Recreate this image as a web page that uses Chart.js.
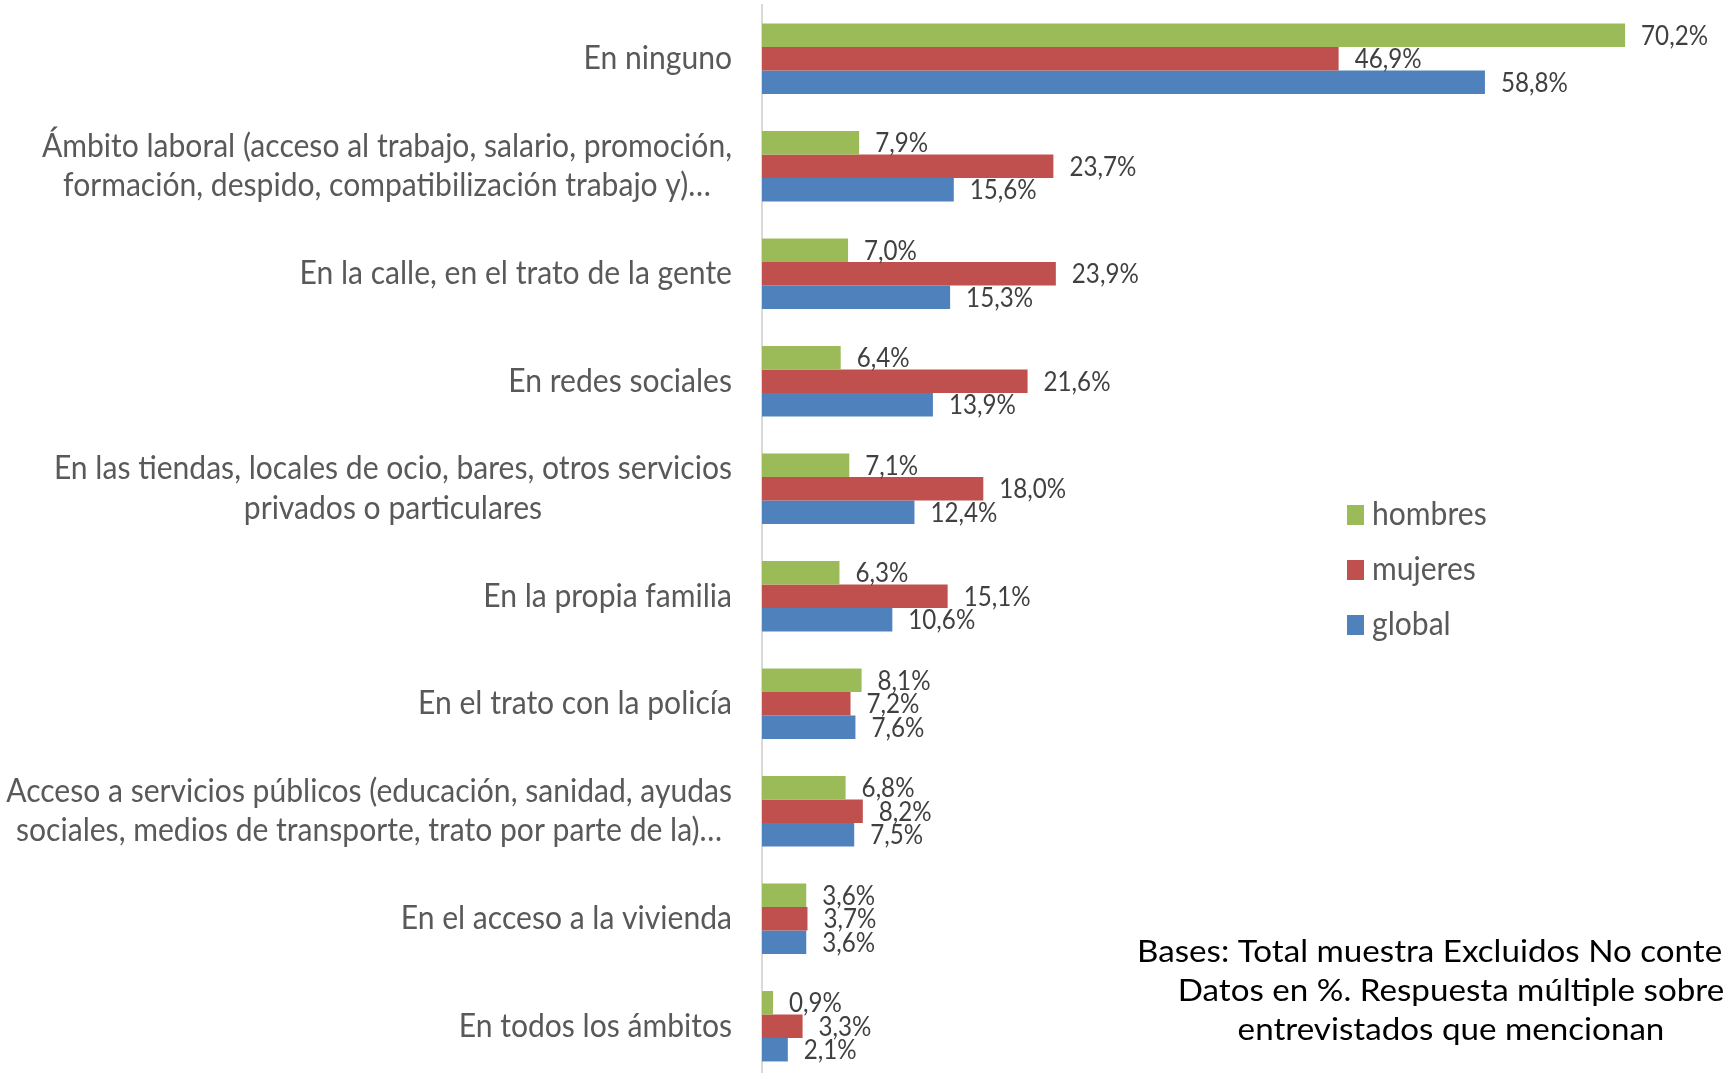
<!DOCTYPE html>
<html><head><meta charset="utf-8">
<script src="https://cdn.jsdelivr.net/npm/chart.js@4/dist/chart.umd.min.js"></script>
<style>html,body{margin:0;padding:0;overflow:hidden;background:#fff;width:1723px;height:1073px}canvas{display:block}</style>
</head><body><canvas id="c" width="1723" height="1090"></canvas>
<script>
const categories = [
  'En ninguno',
  ['Ámbito laboral (acceso al trabajo, salario, promoción,', 'formación, despido, compatibilización trabajo y)…'],
  'En la calle, en el trato de la gente',
  'En redes sociales',
  ['En las tiendas, locales de ocio, bares, otros servicios', 'privados o particulares'],
  'En la propia familia',
  'En el trato con la policía',
  ['Acceso a servicios públicos (educación, sanidad, ayudas', 'sociales, medios de transporte, trato por parte de la)…'],
  'En el acceso a la vivienda',
  'En todos los ámbitos'
];
const seriesNames = ['hombres', 'mujeres', 'global'];
const hombresValues = [70.2, 7.9, 7.0, 6.4, 7.1, 6.3, 8.1, 6.8, 3.6, 0.9];
const mujeresValues = [46.9, 23.7, 23.9, 21.6, 18.0, 15.1, 7.2, 8.2, 3.7, 3.3];
const globalValues  = [58.8, 15.6, 15.3, 13.9, 12.4, 10.6, 7.6, 7.5, 3.6, 2.1];
const seriesColors = ['#9BBB59', '#C0504D', '#4F81BD'];
const footnoteLines = [
  'Bases: Total muestra Excluidos No contesta',
  'Datos en %. Respuesta múltiple sobre',
  'entrevistados que mencionan'
];

const FONT = 'Lato, "Open Sans", sans-serif';

function drawScaled(ctx, text, x, y, sx, align) {
  ctx.save();
  ctx.translate(x, y);
  ctx.scale(sx, 1);
  ctx.textAlign = align;
  ctx.fillText(text, 0, 0);
  ctx.restore();
}

const categoryLabelPlugin = {
  id: 'categoryLabels',
  afterDraw(chart) {
    const ctx = chart.ctx;
    const ys = chart.scales.y;
    const right = chart.chartArea.left - 30;
    const sx = 0.94;
    ctx.save();
    ctx.font = '32px ' + FONT;
    ctx.fillStyle = '#595959';
    ctx.textBaseline = 'middle';
    const lineH = 39.5;
    chart.data.labels.forEach((lab, i) => {
      const lines = Array.isArray(lab) ? lab : [lab];
      const y = ys.getPixelForValue(i);
      const w = Math.max(...lines.map(l => ctx.measureText(l).width)) * sx;
      const cx = right - w / 2;
      lines.forEach((l, j) => {
        drawScaled(ctx, l, cx, y + (j - (lines.length - 1) / 2) * lineH, sx, 'center');
      });
    });
    ctx.restore();
  }
};

const dataLabelPlugin = {
  id: 'dataLabels',
  afterDatasetsDraw(chart) {
    const ctx = chart.ctx;
    ctx.save();
    ctx.font = '26px ' + FONT;
    ctx.fillStyle = '#404040';
    ctx.textBaseline = 'middle';
    chart.data.datasets.forEach((ds, di) => {
      const meta = chart.getDatasetMeta(di);
      meta.data.forEach((el, i) => {
        const txt = ds.data[i].toFixed(1).replace('.', ',') + '%';
        drawScaled(ctx, txt, el.x + 16, el.y + 1, 0.93, 'left');
      });
    });
    ctx.restore();
  }
};

const legendPlugin = {
  id: 'sideLegend',
  afterDraw(chart) {
    const ctx = chart.ctx;
    ctx.save();
    ctx.font = '32px ' + FONT;
    ctx.textBaseline = 'middle';
    chart.data.datasets.forEach((ds, i) => {
      const cy = 515 + i * 55;
      ctx.fillStyle = ds.backgroundColor;
      ctx.fillRect(1347, cy - 10, 17, 20);
      ctx.fillStyle = '#595959';
      drawScaled(ctx, ds.label, 1372, cy, 0.94, 'left');
    });
    ctx.restore();
  }
};

const footnotePlugin = {
  id: 'footnote',
  afterDraw(chart) {
    const ctx = chart.ctx;
    ctx.save();
    ctx.font = '31px ' + FONT;
    ctx.fillStyle = '#000000';
    ctx.textBaseline = 'middle';
    footnoteLines.forEach((l, i) => {
      drawScaled(ctx, l, 1451, 952 + i * 39, 1.07, 'center');
    });
    ctx.restore();
  }
};

const valueSets = [hombresValues, mujeresValues, globalValues];
new Chart(document.getElementById('c'), {
  type: 'bar',
  data: {
    labels: categories,
    datasets: seriesNames.map((n, i) => ({
      label: n,
      data: valueSets[i],
      backgroundColor: seriesColors[i],
      borderWidth: 0,
      categoryPercentage: 0.655,
      barPercentage: 1.0
    }))
  },
  options: {
    indexAxis: 'y',
    responsive: false,
    animation: false,
    devicePixelRatio: 1,
    layout: { padding: { left: 762, right: 2, top: 5, bottom: 10 } },
    plugins: { legend: { display: false }, tooltip: { enabled: false } },
    scales: {
      x: { display: false, min: 0, max: 78 },
      y: {
        grid: { display: false, drawTicks: false },
        ticks: { display: false },
        border: { display: true, color: '#D9D9D9', width: 2 },
        afterFit(s) { s.width = 0; }
      }
    }
  },
  plugins: [categoryLabelPlugin, dataLabelPlugin, legendPlugin, footnotePlugin]
});
</script>
</body></html>
